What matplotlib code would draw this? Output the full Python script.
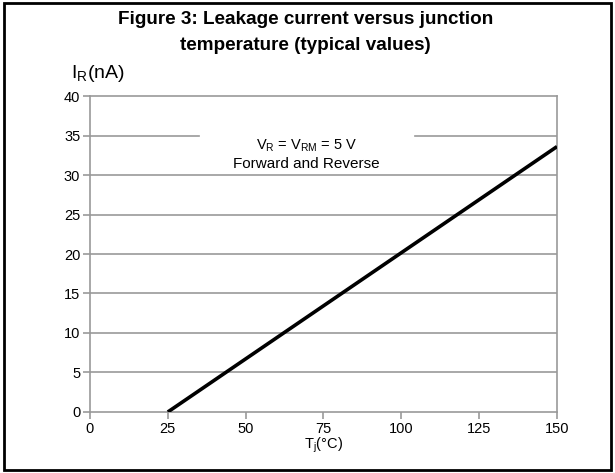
import matplotlib.pyplot as plt
from matplotlib.patches import Rectangle

plt.rcParams['font.family'] = ['Liberation Sans', 'DejaVu Sans']
plt.rcParams['mathtext.fontset'] = 'custom'
plt.rcParams['mathtext.rm'] = 'Liberation Sans'

# data
tj = [25, 150]
ir = [0, 33.6]
xticks = [0, 25, 50, 75, 100, 125, 150]
yticks = [0, 5, 10, 15, 20, 25, 30, 35, 40]

grey = '#999999'

fig = plt.figure(figsize=(6.15, 4.73), dpi=100)
ax = fig.add_axes([0.1463, 0.129, 0.7594, 0.668])

ax.set_xlim(0, 150)
ax.set_ylim(0, 40)
ax.set_xticks(xticks)
ax.set_yticks(yticks)

for y in yticks[1:-1]:
    if y == 35:
        ax.plot([0, 35], [y, y], color=grey, lw=1.2, zorder=1)
        ax.plot([104.4, 150], [y, y], color=grey, lw=1.2, zorder=1)
    else:
        ax.axhline(y, color=grey, lw=1.2, zorder=1)

ax.plot(tj, ir, color='black', lw=2.6, zorder=3, solid_capstyle='butt')

for s in ax.spines.values():
    s.set_color(grey)
    s.set_linewidth(1.2)
ax.tick_params(axis='both', colors=grey, labelcolor='black', labelsize=10.5,
               length=5, width=1.2, pad=2)

ax.text(69.5, 33.75, r'V$_\mathregular{R}$ = V$_\mathregular{RM}$ = 5 V',
        ha='center', va='center', fontsize=10.5)
ax.text(69.5, 31.45, 'Forward and Reverse', ha='center', va='center', fontsize=11)

ax.set_xlabel(r'T$_\mathregular{j}$(°C)', fontsize=10.5, labelpad=0)
fig.text(0.116, 0.822, r'I$_\mathregular{R}$(nA)', fontsize=14, ha='left', va='bottom')

fig.text(0.497, 0.959, 'Figure 3: Leakage current versus junction',
         ha='center', va='center', fontsize=13.6, fontweight='bold')
fig.text(0.497, 0.904, 'temperature (typical values)',
         ha='center', va='center', fontsize=13.6, fontweight='bold')

fig.patches.append(Rectangle((0.006, 0.006), 0.988, 0.988, transform=fig.transFigure,
                             fill=False, edgecolor='black', lw=2))

fig.savefig('out.png', dpi=100)
